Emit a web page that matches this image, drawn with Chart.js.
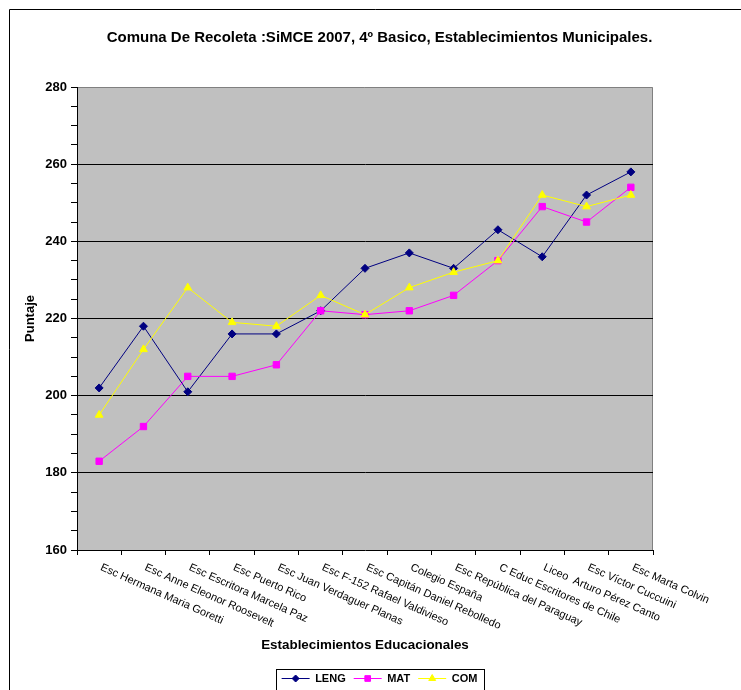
<!DOCTYPE html>
<html lang="es">
<head>
<meta charset="UTF-8">
<title>SIMCE 2007 Recoleta</title>
<script src="https://cdn.jsdelivr.net/npm/chart.js@4.4.7/dist/chart.umd.min.js"></script>
<style>
  body { margin: 0; background: #fff; }
  #wrap { width: 741px; height: 690px; }
</style>
</head>
<body>
<div id="wrap"><canvas id="grafico" width="741" height="690"></canvas></div>
<script>
// datos del grafico
const categorias = [
  'Esc Hermana Maria Goretti',
  'Esc Anne Eleonor Roosevelt',
  'Esc Escritora Marcela Paz',
  'Esc Puerto Rico',
  'Esc Juan Verdaguer Planas',
  'Esc F-152 Rafael Valdivieso',
  'Esc Capitán Daniel Rebolledo',
  'Colegio España',
  'Esc República del Paraguay',
  'C Educ Escritores de Chile',
  'Liceo  Arturo Pérez Canto',
  'Esc Víctor Cuccuini',
  'Esc Marta Colvin'
];
const leng = [202, 218, 201, 216, 216, 222, 233, 237, 233, 243, 236, 252, 258];
const mat  = [183, 192, 205, 205, 208, 222, 221, 222, 226, 235, 249, 245, 254];
const com  = [195, 212, 228, 219, 218, 226, 221, 228, 232, 235, 252, 249, 252];
const yMin = 160, yMax = 280, yPaso = 5, yEtiqueta = 20;

const FUENTE = '"Liberation Sans", Arial, sans-serif';

// fondo gris, bordes y marco exterior
const fondoPlugin = {
  id: 'fondo',
  beforeDraw(chart) {
    const {ctx, chartArea: a} = chart;
    ctx.save();
    ctx.fillStyle = '#fff';
    ctx.fillRect(0, 0, chart.width, chart.height);
    ctx.strokeStyle = '#000';
    ctx.lineWidth = 1;
    ctx.beginPath();
    ctx.moveTo(9.5, chart.height);
    ctx.lineTo(9.5, 9.5);
    ctx.lineTo(chart.width, 9.5);
    ctx.stroke();
    ctx.fillStyle = '#c0c0c0';
    ctx.fillRect(a.left, a.top, a.right - a.left, a.bottom - a.top);
    ctx.strokeStyle = '#808080';
    ctx.beginPath();
    ctx.moveTo(a.left, Math.round(a.top) + 0.5);
    ctx.lineTo(Math.round(a.right) - 0.5, Math.round(a.top) + 0.5);
    ctx.lineTo(Math.round(a.right) - 0.5, a.bottom);
    ctx.stroke();
    ctx.restore();
  },
  afterDraw(chart) {
    const {ctx} = chart;
    const xs = chart.scales.x;
    // etiquetas inclinadas del eje x
    ctx.save();
    ctx.font = '11px ' + FUENTE;
    ctx.fillStyle = '#000';
    ctx.textAlign = 'left';
    ctx.textBaseline = 'top';
    categorias.forEach((c, i) => {
      ctx.save();
      ctx.translate(xs.getPixelForValue(i) + 4, xs.top + 12);
      ctx.rotate(24 * Math.PI / 180);
      ctx.fillText(c, 0, 0);
      ctx.restore();
    });
    ctx.restore();

    // marcadores y caja de la leyenda
    const lg = chart.legend;
    const cajas = lg.legendHitBoxes;
    if (!cajas || !cajas.length) return;
    ctx.save();
    lg.legendItems.forEach((item, i) => {
      const ds = chart.data.datasets[item.datasetIndex];
      const h = cajas[i];
      ctx.fillStyle = ds.borderColor;
      ctx.strokeStyle = ds.borderColor;
      ctx.lineWidth = 1;
      Chart.helpers.drawPoint(ctx, {pointStyle: ds.pointStyle, radius: ds.pointRadius - 0.5, borderWidth: 1, rotation: 0},
        h.left + 14, h.top + h.height / 2);
    });
    const primero = cajas[0], ultimo = cajas[cajas.length - 1];
    const cy = primero.top + primero.height / 2;
    ctx.strokeStyle = '#000';
    ctx.lineWidth = 1;
    ctx.strokeRect(Math.round(primero.left - 6) + 0.5, Math.round(cy - 10) + 0.5,
      Math.round(ultimo.left + ultimo.width - primero.left + 12), 40);
    ctx.restore();
  }
};

const serie = (label, data, color, estilo, radio, orden) => ({
  label, data,
  borderColor: color,
  backgroundColor: color,
  borderWidth: 1,
  pointStyle: estilo,
  pointRadius: radio,
  pointHoverRadius: radio,
  pointBackgroundColor: color,
  pointBorderColor: color,
  pointBorderWidth: 1,
  tension: 0,
  order: orden
});

new Chart(document.getElementById('grafico'), {
  type: 'line',
  data: {
    labels: categorias,
    datasets: [
      serie('LENG', leng, '#000080', 'rectRot', 4, 3),
      serie('MAT', mat, '#ff00ff', 'rect', 4.5, 2),
      serie('COM', com, '#ffff00', 'triangle', 4.5, 1)
    ]
  },
  options: {
    responsive: false,
    animation: false,
    layout: { padding: { left: 18, right: 0, top: 0, bottom: -4 } },
    scales: {
      x: {
        type: 'category',
        offset: true,
        grid: { display: true, offset: true, drawOnChartArea: false, tickLength: 5, color: '#000' },
        border: { color: '#000', width: 1 },
        ticks: { display: false },
        title: {
          display: true,
          text: 'Establecimientos Educacionales',
          color: '#000',
          font: { family: FUENTE, size: 13.4, weight: 'bold' },
          padding: { top: 0, bottom: 12 }
        },
        afterFit(s) { s.height = 115; }
      },
      y: {
        min: yMin,
        max: yMax,
        ticks: {
          stepSize: yPaso,
          autoSkip: false,
          padding: 4,
          color: '#000',
          font: { family: FUENTE, size: 13, weight: 'bold' },
          callback: v => (v % yEtiqueta === 0 ? v : '')
        },
        grid: {
          tickLength: 6,
          tickColor: '#000',
          color: c => (c.tick && c.tick.value % yEtiqueta === 0 && c.tick.value > yMin && c.tick.value < yMax) ? '#000' : 'rgba(0,0,0,0)'
        },
        border: { color: '#000', width: 1 },
        title: {
          display: true,
          text: 'Puntaje',
          color: '#000',
          font: { family: FUENTE, size: 13, weight: 'bold' },
          padding: { top: 5, bottom: 0 }
        },
        afterFit(s) { s.width = 59; }
      },
      y2: {
        position: 'right',
        display: true,
        ticks: { display: false },
        grid: { display: false },
        border: { display: false },
        afterFit(s) { s.width = 88; }
      }
    },
    plugins: {
      title: {
        display: true,
        text: 'Comuna De Recoleta :SiMCE 2007, 4º Basico, Establecimientos Municipales.',
        color: '#000',
        font: { family: FUENTE, size: 15, weight: 'bold' },
        padding: { top: 28.5, bottom: 40.5 }
      },
      legend: {
        position: 'bottom',
        labels: {
          color: '#000',
          font: { family: FUENTE, size: 11, weight: 'bold' },
          padding: 8,
          usePointStyle: true,
          pointStyle: 'line',
          pointStyleWidth: 28,
          sort: (a, b) => a.datasetIndex - b.datasetIndex
        }
      },
      tooltip: { enabled: false }
    }
  },
  plugins: [fondoPlugin]
});
</script>
</body>
</html>
